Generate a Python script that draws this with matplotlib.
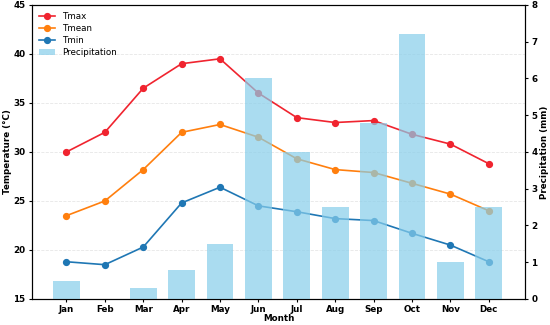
import matplotlib
matplotlib.use("Agg")
import matplotlib.pyplot as plt
import numpy as np

months = ["Jan", "Feb", "Mar", "Apr", "May", "Jun", "Jul", "Aug", "Sep", "Oct", "Nov", "Dec"]
tmax = [30.0, 32.0, 36.5, 39.0, 39.5, 36.0, 33.5, 33.0, 33.2, 31.8, 30.8, 28.8]
tmean = [23.5, 25.0, 28.2, 32.0, 32.8, 31.5, 29.3, 28.2, 27.9, 26.8, 25.7, 24.0]
tmin = [18.8, 18.5, 20.3, 24.8, 26.4, 24.5, 23.9, 23.2, 23.0, 21.7, 20.5, 18.8]
precip = [0.5, 0.0, 0.3, 0.8, 1.5, 6.0, 4.0, 2.5, 4.8, 7.2, 1.0, 2.5]

x = np.arange(len(months))
fig = plt.figure(figsize=(5.5, 3.25), dpi=100)
ax = fig.add_axes([0.058, 0.08, 0.897, 0.905])
ax2 = ax.twinx()

l1, = ax.plot(x, tmax, color="#f0242f", marker="o", ms=4.2, lw=1.2, label="Tmax")
l2, = ax.plot(x, tmean, color="#ff7f0e", marker="o", ms=4.2, lw=1.2, label="Tmean")
l3, = ax.plot(x, tmin, color="#1f77b4", marker="o", ms=4.2, lw=1.2, label="Tmin")
b = ax2.bar(x, precip, width=0.7, color="#87ceeb", alpha=0.7, label="Precipitation")

ax.set_ylim(15, 45)
ax2.set_ylim(0, 8)
ax.set_xlim(-0.9, 11.95)
ax.set_xticks(x)
ax.set_xticklabels(months)
ax.yaxis.grid(True, linestyle="--", color="#e6e6e6", lw=0.6)
ax.set_axisbelow(True)

fs = 6.3
for a in (ax, ax2):
    a.tick_params(labelsize=fs, length=2.5, width=0.8, pad=2)
    for lab in a.get_xticklabels() + a.get_yticklabels():
        lab.set_fontweight("bold")
ax.set_xlabel("Month", fontsize=fs, fontweight="bold", labelpad=0)
ax.set_ylabel("Temperature (°C)", fontsize=fs, fontweight="bold", labelpad=1)
ax2.set_ylabel("Precipitation (mm)", fontsize=fs, fontweight="bold", labelpad=1.5)

ax.legend(handles=[l1, l2, l3, b], loc="upper left", fontsize=6.3, frameon=False,
          handlelength=1.8, labelspacing=0.35, borderaxespad=0.4)
fig.savefig("out.png", dpi=100)
